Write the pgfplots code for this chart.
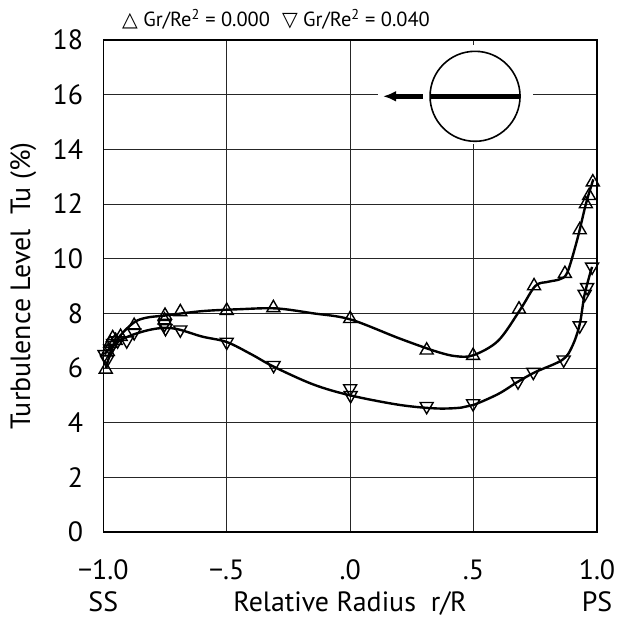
\documentclass[border=0pt]{standalone}
\usepackage{fontspec}
\setmainfont{PT Sans}
\newfontfamily\symfont{DejaVu Sans}
\usepackage{pgfplots}
\pgfplotsset{compat=1.18}
\usetikzlibrary{arrows.meta}

% measured turbulence levels, Gr/Re^2 = 0.000
\pgfplotstableread{
x      y
-0.990 5.95
-0.982 6.60
-0.972 6.90
-0.962 7.10
-0.950 7.00
-0.930 7.15
-0.875 7.55
-0.752 7.75
-0.750 7.92
-0.688 8.05
-0.500 8.10
-0.311 8.20
 0.000 7.80
 0.310 6.65
 0.498 6.45
 0.684 8.15
 0.745 9.00
 0.870 9.45
 0.930 11.05
 0.955 12.00
 0.968 12.30
 0.983 12.80
}\tableA

% measured turbulence levels, Gr/Re^2 = 0.040
\pgfplotstableread{
x      y
-0.995 6.50
-0.985 6.30
-0.972 6.70
-0.960 6.90
-0.942 7.00
-0.905 7.00
-0.875 7.30
-0.752 7.60
-0.748 7.45
-0.688 7.40
-0.500 6.95
-0.310 6.10
 0.000 5.25
 0.002 5.00
 0.310 4.60
 0.498 4.70
 0.680 5.50
 0.742 5.85
 0.865 6.30
 0.930 7.55
 0.950 8.70
 0.960 8.95
 0.980 9.70
}\tableB

% faired curves through each data set
\pgfplotstableread{
x      y
-0.990 6.00
-0.960 6.80
-0.920 7.30
-0.870 7.70
-0.820 7.85
-0.750 7.92
-0.600 8.08
-0.450 8.15
-0.300 8.18
-0.150 8.00
 0.000 7.78
 0.200 7.08
 0.350 6.60
 0.430 6.43
 0.500 6.47
 0.600 7.00
 0.690 8.15
 0.750 9.00
 0.800 9.15
 0.850 9.25
 0.880 9.50
 0.920 10.70
 0.955 12.00
 0.985 12.90
}\fitA

\pgfplotstableread{
x      y
-0.995 6.50
-0.960 6.85
-0.900 7.15
-0.820 7.38
-0.750 7.47
-0.690 7.40
-0.600 7.15
-0.500 6.95
-0.400 6.50
-0.310 6.05
-0.150 5.40
 0.000 5.00
 0.200 4.65
 0.350 4.52
 0.450 4.55
 0.500 4.65
 0.600 5.05
 0.680 5.50
 0.750 5.85
 0.860 6.30
 0.900 6.80
 0.930 7.60
 0.950 8.70
 0.980 9.70
}\fitB

\begin{document}
\begin{tikzpicture}
\useasboundingbox (-103.3bp,-88bp) rectangle (513.7bp,532bp);
\begin{axis}[
  scale only axis,
  width=493.7bp, height=492bp,
  xmin=-1, xmax=1, ymin=0, ymax=18,
  xtick={-1,-0.5,0,0.5,1},
  xticklabels={−1.0,−.5,.0,.5,1.0},
  ytick={0,2,...,18},
  grid=major,
  major grid style={black!85, line width=0.8bp},
  axis line style={line width=1.3bp},
  major tick length=0pt,
  tick label style={font=\fontsize{28}{32}\selectfont},
  /pgf/number format/assume math mode=true,
  xticklabel style={anchor=base, inner sep=0pt, yshift=-47bp},
  yticklabel style={anchor=east, inner sep=0pt, xshift=-20bp},
  clip=false,
]
% inset: cylinder cross-section with rotation direction
\fill[white] (axis cs:0.113,14.18) rectangle (axis cs:0.741,17.8);
\coordinate (c) at (axis cs:0.506,15.94);
\draw[line width=1.6bp] (c) circle[radius=45bp];
\draw[line width=5bp] ([xshift=-45bp]c) -- ([xshift=45bp]c);
\draw[line width=5bp, -{Latex[length=13bp,width=11bp]}] ([xshift=-52bp]c) -- ([xshift=-92bp]c);

\addplot[black, line width=2.4bp, smooth, tension=0.55] table {\fitA};
\addplot[black, line width=2.4bp, smooth, tension=0.55] table {\fitB};
\addplot[only marks, mark=triangle, mark size=7.5bp,
  mark options={line width=1.4bp, fill=none, draw=black}] table {\tableA};
\addplot[only marks, mark=triangle, mark size=7.5bp,
  mark options={rotate=180, line width=1.4bp, fill=none, draw=black}] table {\tableB};
\end{axis}

% labels
\node[anchor=base, inner sep=0pt, font=\fontsize{20.5}{23}\selectfont] at (172.7bp,505bp)
  {{\symfont △} Gr/Re\textsuperscript{2} = 0.000\hspace{12bp}{\symfont ▽} Gr/Re\textsuperscript{2} = 0.040};
\node[anchor=base, inner sep=0pt, font=\fontsize{28}{32}\selectfont] at (0bp,-79bp) {SS};
\node[anchor=base, inner sep=0pt, font=\fontsize{28}{32}\selectfont] at (246.85bp,-79bp) {Relative Radius\ \ r/R};
\node[anchor=base, inner sep=0pt, font=\fontsize{28}{32}\selectfont] at (493.7bp,-79bp) {PS};
\node[rotate=90, inner sep=0pt, font=\fontsize{28}{32}\selectfont] at (-80bp,246bp) {Turbulence Level\ \ Tu (\%)};
\end{tikzpicture}
\end{document}
